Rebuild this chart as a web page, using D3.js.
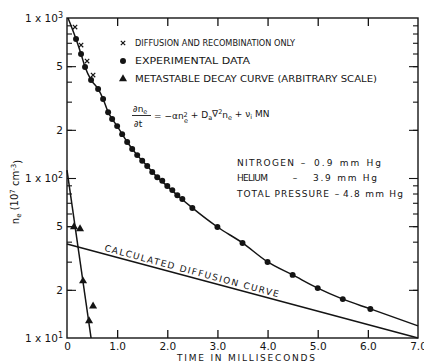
<!DOCTYPE html>
<html><head><meta charset="utf-8">
<script src="https://cdn.jsdelivr.net/npm/d3@7"></script>
<style>
body{margin:0;background:#fff}
svg{display:block}
text{font-family:"DejaVu Sans",sans-serif;fill:#141414}
</style>
</head><body>
<svg id="c" width="424" height="362"></svg>
<script>
// ---------- data ----------
const expT = [0.18,0.28,0.36,0.48,0.62,0.72,0.82,0.90,1.0,1.1,1.2,1.3,1.4,1.5,1.6,1.7,1.8,1.9,2.0,2.1,2.2,2.3,2.5,3.0,3.5,4.0,4.5,5.0,5.5,6.05];
const expN = [739,596,494,410,360,312,258,234,211,188,168,152,139,128,119,109,101,96,89,84,78,74,65,49.4,39.3,29.9,24.8,20.5,17.5,15.2];
const recT = [0.16,0.28,0.40,0.52];
const recN = [878,678,538,440];
const metaT = [0.14,0.26,0.32,0.44,0.52];
const metaN = [49.4,48,22.7,12.8,15.8];
const metaLineT = [0,0.48];
const metaLineN = [112,10];
const diffT = [0,7];
const diffN = [38.7,10];
const fitT = [0.02,0.18,0.28,0.36,0.48,0.62,0.72,0.82,0.90,1.0,1.2,1.4,1.6,1.8,2.0,2.2,2.5,3.0,3.5,4.0,4.5,5.0,5.5,6.05,7.0];
const fitN = [1000,739,596,494,410,360,312,258,234,211,168,139,119,101,89,78,65,49.4,39.3,29.9,24.8,20.5,17.5,15.2,11.9];
const xTickVals = [0,1,2,3,4,5,6,7];
const xTickLabels = ["0","1.0","2.0","3.0","4.0","5.0","6.0","7.0"];
const yMinor = [20,30,40,50,60,70,80,90,200,300,400,500,600,700,800,900];
const yLabelVals = [1000,500,200,100,50,20,10];
const yLabelMain = ["1 x 10","5","2","1 x 10","5","2","1 x 10"];
const yLabelSup = ["3","","","2","","","1"];
const legendLabels = ["DIFFUSION AND RECOMBINATION ONLY","EXPERIMENTAL DATA","METASTABLE DECAY CURVE (ARBITRARY SCALE)"];
const gasNames = ["NITROGEN","HELIUM","TOTAL PRESSURE"];
const gasValues = ["0.9 mm Hg","3.9 mm Hg","4.8 mm Hg"];
const xTitle = "TIME IN MILLISECONDS";
const diffLabel = "CALCULATED DIFFUSION CURVE";

// ---------- layout ----------
const svg = d3.select("#c");
const L=67, R=418, T=18, B=338;
const x = d3.scaleLinear().domain([0,7]).range([L,R]);
const y = d3.scaleLog().domain([10,1000]).range([B,T]);
const ink = "#141414";

// frame
svg.append("rect").attr("x",L).attr("y",T).attr("width",R-L).attr("height",B-T)
  .attr("fill","none").attr("stroke",ink).attr("stroke-width",1.4);

// bottom axis (inward ticks)
const gB = svg.append("g").attr("transform",`translate(0,${B})`)
  .call(d3.axisBottom(x).tickValues(xTickVals).tickSizeInner(-8).tickSizeOuter(0).tickPadding(4)
    .tickFormat((d,i)=>xTickLabels[i]));
gB.select(".domain").remove();
gB.selectAll(".tick line").attr("stroke",ink).attr("stroke-width",1.3)
  .filter(d=>d===0||d===7).remove();
gB.selectAll(".tick text").attr("font-size",10.5).attr("fill",ink).attr("font-family","DejaVu Sans").attr("dy","0.72em");

// top axis ticks
const gT = svg.append("g").attr("transform",`translate(0,${T})`)
  .call(d3.axisTop(x).tickValues(xTickVals.slice(1,7)).tickSizeInner(-8).tickSizeOuter(0).tickFormat(""));
gT.select(".domain").remove();
gT.selectAll(".tick line").attr("stroke",ink).attr("stroke-width",1.3);

// left and right axis ticks
function yTicks(gen, pos){
  const gMin = svg.append("g").attr("transform",`translate(${pos},0)`)
    .call(gen(y).tickValues(yMinor).tickSizeInner(-5).tickSizeOuter(0).tickFormat(""));
  gMin.select(".domain").remove();
  gMin.selectAll(".tick line").attr("stroke",ink).attr("stroke-width",1.1);
  const gMaj = svg.append("g").attr("transform",`translate(${pos},0)`)
    .call(gen(y).tickValues([20,50,100,200,500]).tickSizeInner(-9).tickSizeOuter(0).tickFormat(""));
  gMaj.select(".domain").remove();
  gMaj.selectAll(".tick line").attr("stroke",ink).attr("stroke-width",1.1);
}
yTicks(d3.axisLeft, L);
yTicks(d3.axisRight, R);

// y labels
const yl = svg.append("g");
yLabelVals.forEach((v,i)=>{
  const t = yl.append("text").attr("x",L-4).attr("y",y(v)).attr("dy","0.36em")
    .attr("text-anchor","end").attr("font-size",10.5);
  t.append("tspan").text(yLabelMain[i]);
  if (yLabelSup[i]) t.append("tspan").attr("dy","-0.45em").attr("font-size",8).text(yLabelSup[i]);
});

// y title
const yt = svg.append("text").attr("transform","translate(19,192) rotate(-90)")
  .attr("text-anchor","middle").attr("font-size",10);
yt.append("tspan").text("n");
yt.append("tspan").attr("font-size",7).attr("dy","0.35em").text("e");
yt.append("tspan").attr("dy","-0.35em").text(" (10");
yt.append("tspan").attr("font-size",7).attr("dy","-0.45em").text("7");
yt.append("tspan").attr("dy","0.45em").text(" cm");
yt.append("tspan").attr("font-size",7).attr("dy","-0.45em").text("-3");
yt.append("tspan").attr("dy","0.45em").text(")");

// x title
svg.append("text").attr("x",246).attr("y",361).attr("text-anchor","middle")
  .attr("font-size",9).attr("textLength",138).attr("lengthAdjust","spacing").text(xTitle);

// ---------- curves ----------
const lineGen = d3.line().x(d=>x(d[0])).y(d=>y(d[1]));
svg.append("path").datum(fitT.map((t,i)=>[t,fitN[i]]))
  .attr("d", lineGen.curve(d3.curveMonotoneX)).attr("fill","none").attr("stroke",ink).attr("stroke-width",1.5);
svg.append("path").datum(diffT.map((t,i)=>[t,diffN[i]]))
  .attr("d", d3.line().x(d=>x(d[0])).y(d=>y(d[1]))).attr("fill","none").attr("stroke",ink).attr("stroke-width",1.5);
svg.append("path").datum(metaLineT.map((t,i)=>[t,metaLineN[i]]))
  .attr("d", d3.line().x(d=>x(d[0])).y(d=>y(d[1]))).attr("fill","none").attr("stroke",ink).attr("stroke-width",1.5);

// markers
const dotSym = d3.symbol().type(d3.symbolCircle).size(28);
const triSym = d3.symbol().type(d3.symbolTriangle).size(28);
function xMark(g,cx,cy,s){
  g.append("path").attr("d",`M${cx-s},${cy-s}L${cx+s},${cy+s}M${cx+s},${cy-s}L${cx-s},${cy+s}`)
   .attr("stroke",ink).attr("stroke-width",1.2).attr("fill","none");
}
svg.append("g").selectAll("path").data(expT.map((t,i)=>[t,expN[i]])).join("path")
  .attr("d",dotSym).attr("transform",d=>`translate(${x(d[0])},${y(d[1])})`).attr("fill",ink);
svg.append("g").selectAll("path").data(metaT.map((t,i)=>[t,metaN[i]])).join("path")
  .attr("d",triSym).attr("transform",d=>`translate(${x(d[0])},${y(d[1])})`).attr("fill",ink);
const gx = svg.append("g");
recT.forEach((t,i)=>xMark(gx,x(t),y(recN[i]),2.2));

// ---------- legend ----------
const legY = [43,61,79];
const legEnd = [295,250,377];
xMark(svg,123,legY[0],2.2);
svg.append("path").attr("d",dotSym).attr("transform",`translate(123,${legY[1]})`).attr("fill",ink);
svg.append("path").attr("d",triSym).attr("transform",`translate(123,${legY[2]})`).attr("fill",ink);
legendLabels.forEach((s,i)=>{
  svg.append("text").attr("x",135).attr("y",legY[i]).attr("dy","0.36em").attr("font-size",9)
    .attr("textLength",legEnd[i]-135).attr("lengthAdjust","spacingAndGlyphs").text(s);
});

// equation
const eq = svg.append("g").attr("font-size",9);
const num = eq.append("text").attr("x",133).attr("y",112);
num.append("tspan").text("∂n");
num.append("tspan").attr("font-size",6.5).attr("dy","0.3em").text("e");
eq.append("line").attr("x1",132).attr("x2",151).attr("y1",115.5).attr("y2",115.5).attr("stroke",ink).attr("stroke-width",0.9);
eq.append("text").attr("x",134).attr("y",126.5).text("∂t");
const rhs = eq.append("text").attr("x",154).attr("y",119);
rhs.append("tspan").text("= −αn");
rhs.append("tspan").attr("font-size",6.5).attr("dy","-0.3em").text("2");
rhs.append("tspan").attr("font-size",6.5).attr("dx","-3.8").attr("dy","0.85em").text("e");
rhs.append("tspan").attr("dy","-0.55em").text("  +  D");
rhs.append("tspan").attr("font-size",6.5).attr("dy","0.3em").text("a");
rhs.append("tspan").attr("dy","-0.3em").text("∇");
rhs.append("tspan").attr("font-size",6.5).attr("dy","-0.45em").text("2");
rhs.append("tspan").attr("dy","0.45em").text("n");
rhs.append("tspan").attr("font-size",6.5).attr("dy","0.3em").text("e");
rhs.append("tspan").attr("dy","-0.3em").text("  +  ν");
rhs.append("tspan").attr("font-size",6.5).attr("dy","0.3em").text("i");
rhs.append("tspan").attr("dy","-0.3em").text(" MN");

// gas table
const gasY = [163,178,194];
const dashX = [303,295,337];
const valX = [314,313,343];
const valEnd = [381,377,403];
const nameEnd = [294,268,329];
gasNames.forEach((s,i)=>{
  svg.append("text").attr("x",237).attr("y",gasY[i]).attr("dy","0.36em").attr("font-size",9)
    .attr("textLength",nameEnd[i]-237).attr("lengthAdjust","spacing").text(s);
  svg.append("text").attr("x",dashX[i]).attr("y",gasY[i]).attr("dy","0.36em").attr("font-size",9)
    .attr("text-anchor","middle").text("–");
  svg.append("text").attr("x",valX[i]).attr("y",gasY[i]).attr("dy","0.36em").attr("font-size",9)
    .attr("textLength",valEnd[i]-valX[i]).attr("lengthAdjust","spacing").text(gasValues[i]);
});

// diffusion curve label, placed along the calculated line
const p0 = [x(diffT[0]), y(diffN[0])], p1 = [x(diffT[1]), y(diffN[1])];
const ang = Math.atan2(p1[1]-p0[1], p1[0]-p0[0]);
const labT = 0.72;
const lx = x(labT), ly = p0[1] + (lx-p0[0])*Math.tan(ang);
const off = 3;
svg.append("text")
  .attr("transform",`translate(${lx + off*Math.sin(ang)},${ly - off*Math.cos(ang)}) rotate(${ang*180/Math.PI})`)
  .attr("font-size",9).attr("textLength",180).attr("lengthAdjust","spacing").text(diffLabel);
</script>
</body></html>
